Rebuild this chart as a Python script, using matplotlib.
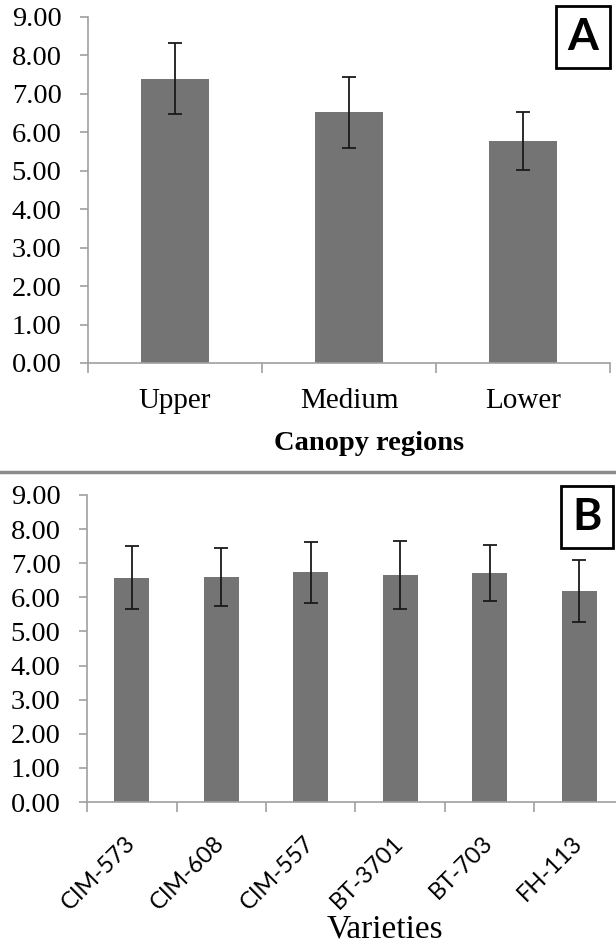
import numpy as np
import matplotlib.pyplot as plt

# Panel A: canopy regions
regions = ['Upper', 'Medium', 'Lower']
region_means = [7.40, 6.52, 5.77]
region_err = [0.92, 0.93, 0.75]

# Panel B: varieties
varieties = ['CIM-573', 'CIM-608', 'CIM-557', 'BT-3701', 'BT-703', 'FH-113']
variety_means = [6.58, 6.60, 6.73, 6.66, 6.72, 6.19]
variety_err = [0.93, 0.86, 0.90, 1.00, 0.82, 0.90]

bar_color = '#747474'
axis_color = '#a0a0a0'
serif = 'Liberation Serif'

fig = plt.figure(figsize=(6.16, 9.44), dpi=100)


def draw_panel(ax, labels, means, errs):
    n = len(labels)
    x = np.arange(n)
    ax.bar(x, means, width=0.39, color=bar_color, zorder=2)
    ax.errorbar(x, means, yerr=errs, fmt='none', ecolor='#1a1a1a',
                elinewidth=1.3, capsize=5, capthick=1.3, zorder=3)
    ax.set_xlim(-0.5, n - 0.5)
    ax.set_ylim(0, 9)
    ax.set_yticks(np.arange(0, 10, 1))
    ax.set_yticklabels([f'{v:.2f}' for v in range(10)], family=serif, fontsize=20.5)
    ax.set_xticks(x)
    ax.set_xticks(np.arange(n + 1) - 0.5, minor=True)
    for s in ['top', 'right']:
        ax.spines[s].set_visible(False)
    for s in ['left', 'bottom']:
        ax.spines[s].set_color(axis_color)
        ax.spines[s].set_linewidth(1.2)
    ax.tick_params(axis='y', length=6, color=axis_color, width=1.2, pad=13)
    ax.tick_params(axis='x', which='major', length=0)
    ax.tick_params(axis='x', which='minor', length=7, color=axis_color, width=1.2)


# top panel
ax1 = fig.add_axes([88 / 616, 1 - 363 / 944, 522 / 616, 346 / 944])
draw_panel(ax1, regions, region_means, region_err)
ax1.set_xticklabels(regions, family=serif, fontsize=21)
ax1.tick_params(axis='x', which='major', pad=18)
fig.text(369 / 616, 1 - 450 / 944, 'Canopy regions', family=serif, fontsize=20.5,
         fontweight='bold', ha='center', va='baseline')

# bottom panel
ax2 = fig.add_axes([87 / 616, 1 - 802 / 944, 537 / 616, 307 / 944])
draw_panel(ax2, varieties, variety_means, variety_err)
ax2.set_xticklabels(varieties, family='Lato', fontsize=17, rotation=45,
                    ha='right', va='center', rotation_mode='anchor')
ax2.tick_params(axis='x', which='major', pad=27)
fig.text(385 / 616, 1 - 937 / 944, 'Varieties', family=serif, fontsize=24,
         ha='center', va='baseline')

# separator between panels
fig.add_artist(plt.Line2D([0, 1], [1 - 472 / 944] * 2, color='#8c8c8c', lw=2.5,
                          transform=fig.transFigure))

# panel letters
box = dict(boxstyle='square,pad=0.25', facecolor='white', edgecolor='black', linewidth=2)
fig.text(583 / 616, 1 - 37 / 944, 'A', family='Lato', fontsize=32, fontweight='bold',
         ha='center', va='center', bbox=box)
fig.text(587 / 616, 1 - 517 / 944, 'B', family='Lato', fontsize=32, fontweight='bold',
         ha='center', va='center', bbox=box)

fig.savefig('out.png', dpi=100)
